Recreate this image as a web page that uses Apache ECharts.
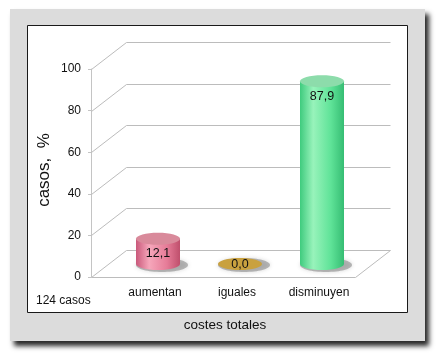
<!DOCTYPE html>
<html><head><meta charset="utf-8">
<script src="https://cdn.jsdelivr.net/npm/echarts@6/dist/echarts.min.js"></script>
<style>html,body{margin:0;padding:0;background:#fff}#c{width:441px;height:358px}</style>
</head><body><div id="c"></div>
<script>
const categories = ['aumentan', 'iguales', 'disminuyen'];
const values = [12.1, 0.0, 87.9];
const yTickValues = [0, 20, 40, 60, 80, 100];
const yAxisTitle = 'casos,  %';
const xAxisTitle = 'costes totales';
const noteText = '124 casos';

const FONT = '"Liberation Sans", Arial, sans-serif';
const DX = 35, DY = -27;           // depth offset of back wall
const MID_DY = -13, MID_DX = 3;    // bars sit mid-depth
const RX = 22, RY = 6;
const palette = [
  {body: ['#c9587a', '#f6a7bb', '#e67c98', '#bf4f6c'], top: '#d98a9b'},
  {body: ['#b89030', '#d2ad4c', '#c9a040', '#b08a2c'], top: '#c9a13f'},
  {body: ['#3fcb7e', '#98f3bb', '#5fe398', '#36bd73'], top: '#8ddcab'}
];

const chart = echarts.init(document.getElementById('c'), null, {renderer: 'canvas'});

function crisp(v) { return Math.round(v) + 0.5; }
const lineStyle = {stroke: '#bcbcbc', lineWidth: 1};

function wallItem(params, api) {
  const v = api.value(0);
  const p0 = api.coord([0, v]);
  const p1 = api.coord([1, v]);
  const x0 = crisp(p0[0]), y0 = crisp(p0[1]), x1 = crisp(p1[0]);
  const children = [
    {type: 'line', shape: {x1: x0, y1: y0, x2: x0 + DX, y2: y0 + DY}, style: lineStyle},
    {type: 'line', shape: {x1: x0 + DX, y1: y0 + DY, x2: x1 + DX, y2: y0 + DY}, style: lineStyle}
  ];
  if (v === 0) {
    children.push({type: 'line', shape: {x1: x0, y1: y0, x2: x1, y2: y0}, style: lineStyle});
    children.push({type: 'line', shape: {x1: x1, y1: y0, x2: x1 + DX, y2: y0 + DY}, style: lineStyle});
  }
  return {type: 'group', children: children};
}

function cylItem(params, api) {
  const i = api.value(0);
  const v = api.value(1);
  const base = api.coord([i, 0]);
  const top = api.coord([i, v]);
  const cx = base[0] + MID_DX;
  const by = base[1] + MID_DY;
  const ty = top[1] + MID_DY;
  const pal = palette[i];
  const grad = {type: 'linear', x: 0, y: 0, x2: 1, y2: 0, colorStops: [
    {offset: 0, color: pal.body[0]}, {offset: 0.3, color: pal.body[1]},
    {offset: 0.7, color: pal.body[2]}, {offset: 1, color: pal.body[3]}]};
  const children = [
    {type: 'ellipse', shape: {cx: cx + 4, cy: by + 1, rx: RX + 4, ry: RY + 1},
     style: {fill: 'rgba(110,110,110,0.45)', shadowBlur: 4, shadowColor: 'rgba(90,90,90,0.5)'}}
  ];
  if (by - ty > 0.5) {
    children.push({type: 'ellipse', shape: {cx: cx, cy: by, rx: RX, ry: RY}, style: {fill: grad}});
    children.push({type: 'rect', shape: {x: cx - RX, y: ty, width: 2 * RX, height: by - ty}, style: {fill: grad}});
  }
  children.push({type: 'ellipse', shape: {cx: cx, cy: ty, rx: RX, ry: RY}, style: {fill: pal.top}});
  const label = v.toFixed(1).replace('.', ',');
  const ly = Math.min(ty + 15, by + 1);
  children.push({type: 'text', style: {text: label, x: cx, y: ly, align: 'center', verticalAlign: 'middle',
    font: '12.5px ' + FONT, fill: '#111'}});
  return {type: 'group', children: children};
}

const option = {
  animation: false,
  backgroundColor: '#fff',
  graphic: [
    {type: 'rect', z: -10, shape: {x: 10, y: 9, width: 415, height: 332},
     style: {fill: '#dcdcdc', shadowBlur: 5, shadowOffsetX: 4, shadowOffsetY: 5, shadowColor: 'rgba(0,0,0,0.85)'}},
    {type: 'rect', z: -9, shape: {x: 27.5, y: 25.5, width: 380, height: 287},
     style: {fill: '#fff', stroke: '#1a1a1a', lineWidth: 1}},
    {type: 'text', z: 10, x: 44, y: 170, rotation: Math.PI / 2,
     style: {text: yAxisTitle, font: '17px ' + FONT, fill: '#111', align: 'center', verticalAlign: 'middle'}},
    {type: 'text', z: 10, x: 225, y: 325,
     style: {text: xAxisTitle, font: '13.5px ' + FONT, fill: '#111', align: 'center', verticalAlign: 'middle'}},
    {type: 'text', z: 10, x: 36, y: 301,
     style: {text: noteText, font: '12px ' + FONT, fill: '#111', align: 'left', verticalAlign: 'middle'}}
  ],
  grid: [
    {left: 91, top: 69, width: 264, height: 208},
    {left: 114, top: 69, width: 246, height: 208}
  ],
  xAxis: [
    {gridIndex: 0, type: 'value', min: 0, max: 1, show: false},
    {gridIndex: 1, type: 'category', data: categories,
     axisLine: {show: false}, axisTick: {show: false}, splitLine: {show: false},
     axisLabel: {margin: 10, fontSize: 12, fontFamily: FONT, color: '#111'}}
  ],
  yAxis: [
    {gridIndex: 0, type: 'value', min: 0, max: 100, interval: 20,
     axisLine: {show: true, lineStyle: {color: '#c4c4c4'}},
     axisTick: {show: true, length: 3, lineStyle: {color: '#c4c4c4'}},
     splitLine: {show: false},
     axisLabel: {margin: 10, fontSize: 12, fontFamily: FONT, color: '#111'}},
    {gridIndex: 1, type: 'value', min: 0, max: 100, interval: 20, show: false}
  ],
  series: [
    {type: 'custom', xAxisIndex: 0, yAxisIndex: 0, renderItem: wallItem,
     data: yTickValues.map(v => [v]), z: 1, silent: true},
    {type: 'custom', xAxisIndex: 1, yAxisIndex: 1, renderItem: cylItem,
     data: values.map((v, i) => [i, v]), z: 5, silent: true}
  ]
};
chart.setOption(option);
</script></body></html>
